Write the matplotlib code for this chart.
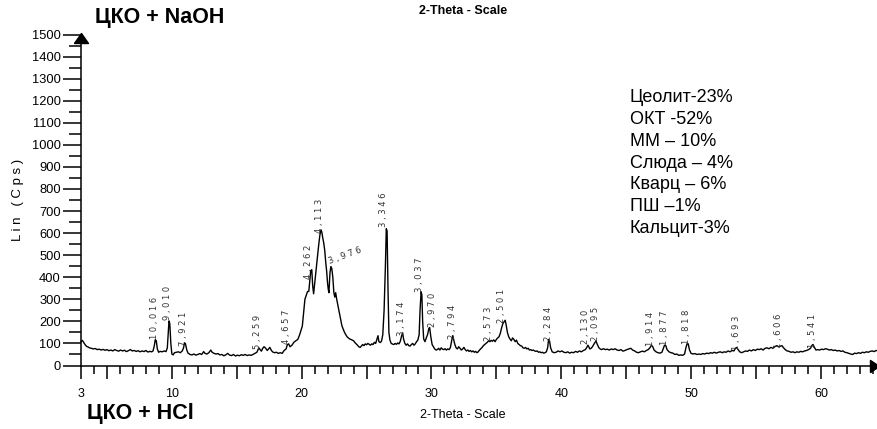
import numpy as np
import matplotlib
matplotlib.use("Agg")
import matplotlib.pyplot as plt
from matplotlib.path import Path
from matplotlib.ticker import MultipleLocator, FixedLocator

plt.rcParams['font.family'] = ['Liberation Sans', 'DejaVu Sans']

# ---------------- data ----------------
two_theta = [
    3.00, 3.08, 3.15, 3.25, 3.35, 3.45, 3.55, 3.65, 3.80, 3.95, 4.10, 4.25, 4.40, 4.55, 4.70, 4.85,
    5.00, 5.15, 5.30, 5.45, 5.60, 5.75, 5.90, 6.05, 6.20, 6.35, 6.50, 6.65, 6.80, 6.95, 7.10, 7.25,
    7.40, 7.55, 7.70, 7.85, 8.00, 8.15, 8.30, 8.45, 8.55, 8.65, 8.72, 8.80, 8.88, 8.98, 9.10, 9.25,
    9.40, 9.55, 9.65, 9.72, 9.78, 9.84, 9.92, 10.00, 10.10, 10.20, 10.35, 10.50, 10.65, 10.80, 10.90, 10.97,
    11.05, 11.15, 11.25, 11.40, 11.55, 11.70, 11.85, 12.00, 12.15, 12.30, 12.45, 12.55, 12.70, 12.85, 13.00, 13.10,
    13.25, 13.40, 13.55, 13.70, 13.85, 14.00, 14.15, 14.30, 14.45, 14.60, 14.75, 14.90, 15.05, 15.20, 15.35, 15.50,
    15.65, 15.80, 15.95, 16.10, 16.25, 16.40, 16.55, 16.70, 16.80, 16.90, 17.00, 17.10, 17.20, 17.35, 17.45, 17.55,
    17.65, 17.75, 17.90, 18.05, 18.20, 18.35, 18.50, 18.65, 18.80, 18.90, 19.00, 19.10, 19.25, 19.40, 19.55, 19.70,
    19.85, 19.95, 20.05, 20.15, 20.25, 20.35, 20.45, 20.55, 20.62, 20.70, 20.78, 20.85, 20.92, 21.00, 21.10, 21.20,
    21.30, 21.40, 21.48, 21.55, 21.62, 21.70, 21.78, 21.85, 21.92, 22.00, 22.05, 22.10, 22.18, 22.25, 22.32, 22.40,
    22.48, 22.55, 22.62, 22.70, 22.80, 22.90, 23.00, 23.10, 23.20, 23.30, 23.40, 23.50, 23.60, 23.70, 23.80, 23.90,
    24.00, 24.10, 24.20, 24.30, 24.40, 24.50, 24.60, 24.70, 24.80, 24.90, 25.00, 25.10, 25.20, 25.30, 25.40, 25.50,
    25.60, 25.70, 25.80, 25.88, 25.95, 26.05, 26.15, 26.25, 26.35, 26.45, 26.52, 26.58, 26.65, 26.72, 26.80, 26.90,
    27.00, 27.10, 27.20, 27.30, 27.40, 27.50, 27.60, 27.70, 27.78, 27.85, 27.95, 28.05, 28.15, 28.25, 28.35, 28.45,
    28.55, 28.65, 28.75, 28.85, 28.95, 29.05, 29.12, 29.20, 29.26, 29.32, 29.40, 29.50, 29.60, 29.70, 29.80, 29.86,
    29.95, 30.05, 30.15, 30.25, 30.35, 30.45, 30.55, 30.65, 30.75, 30.85, 30.95, 31.05, 31.15, 31.25, 31.35, 31.45,
    31.55, 31.63, 31.70, 31.80, 31.90, 32.00, 32.10, 32.20, 32.30, 32.40, 32.50, 32.60, 32.70, 32.80, 32.90, 33.00,
    33.10, 33.20, 33.30, 33.40, 33.50, 33.60, 33.70, 33.80, 33.90, 34.00, 34.10, 34.20, 34.30, 34.40, 34.50, 34.60,
    34.70, 34.80, 34.90, 35.00, 35.10, 35.20, 35.30, 35.40, 35.50, 35.60, 35.68, 35.75, 35.85, 35.95, 36.05, 36.15,
    36.25, 36.35, 36.45, 36.55, 36.65, 36.75, 36.85, 36.95, 37.05, 37.15, 37.25, 37.35, 37.45, 37.55, 37.65, 37.75,
    37.85, 37.95, 38.05, 38.15, 38.25, 38.35, 38.45, 38.55, 38.65, 38.75, 38.85, 38.95, 39.02, 39.10, 39.18, 39.30,
    39.45, 39.60, 39.75, 39.90, 40.05, 40.20, 40.35, 40.50, 40.65, 40.80, 40.95, 41.10, 41.25, 41.40, 41.55, 41.70,
    41.85, 41.95, 42.05, 42.12, 42.20, 42.30, 42.40, 42.50, 42.60, 42.68, 42.78, 42.90, 43.00, 43.10, 43.25, 43.40,
    43.55, 43.70, 43.85, 44.00, 44.15, 44.30, 44.45, 44.60, 44.75, 44.90, 45.05, 45.20, 45.35, 45.50, 45.65, 45.80,
    45.95, 46.10, 46.25, 46.40, 46.55, 46.70, 46.82, 46.95, 47.05, 47.15, 47.30, 47.45, 47.60, 47.75, 47.85, 47.95,
    48.05, 48.15, 48.30, 48.45, 48.60, 48.75, 48.90, 49.05, 49.20, 49.35, 49.50, 49.60, 49.70, 49.78, 49.88, 50.00,
    50.15, 50.30, 50.45, 50.60, 50.75, 50.90, 51.05, 51.20, 51.35, 51.50, 51.65, 51.80, 51.95, 52.10, 52.25, 52.40,
    52.55, 52.70, 52.85, 53.00, 53.15, 53.30, 53.42, 53.52, 53.62, 53.75, 53.90, 54.05, 54.20, 54.35, 54.50, 54.65,
    54.80, 54.95, 55.10, 55.25, 55.40, 55.55, 55.70, 55.85, 56.00, 56.15, 56.30, 56.45, 56.60, 56.75, 56.90, 57.00,
    57.10, 57.25, 57.40, 57.55, 57.70, 57.85, 58.00, 58.15, 58.30, 58.45, 58.60, 58.75, 58.90, 59.05, 59.20, 59.32,
    59.40, 59.50, 59.62, 59.75, 59.90, 60.05, 60.20, 60.35, 60.50, 60.65, 60.80, 60.95, 61.10, 61.25, 61.40, 61.55,
    61.70, 61.85, 62.00, 62.15, 62.30, 62.45, 62.60, 62.75, 62.90, 63.05, 63.20, 63.35, 63.50, 63.65, 63.80, 63.95,
    64.10, 64.25, 64.40,
]

intensity = [
    108, 114, 110, 100, 92, 86, 84, 80, 78, 75, 77, 72, 74, 70, 73, 69,
    72, 67, 70, 66, 72, 68, 65, 70, 66, 69, 63, 67, 72, 66, 68, 64,
    67, 62, 66, 63, 68, 61, 64, 62, 66, 90, 117, 112, 75, 60, 64, 62,
    66, 63, 80, 150, 202, 190, 100, 52, 48, 58, 60, 62, 58, 66, 80, 103,
    98, 70, 56, 50, 48, 52, 47, 50, 54, 50, 63, 55, 52, 58, 70, 60,
    55, 52, 54, 48, 50, 44, 48, 55, 47, 45, 50, 43, 47, 44, 49, 46,
    50, 45, 48, 46, 50, 55, 60, 80, 72, 65, 78, 85, 80, 68, 75, 82,
    70, 62, 58, 60, 55, 58, 55, 68, 75, 95, 98, 85, 92, 105, 112, 118,
    140, 160, 178, 240, 300, 318, 335, 336, 380, 430, 434, 360, 325, 370, 430, 480,
    540, 590, 615, 605, 580, 555, 520, 470, 430, 370, 345, 330, 420, 448, 440, 400,
    330, 310, 330, 300, 270, 240, 210, 180, 165, 150, 140, 130, 125, 120, 118, 115,
    112, 104, 98, 92, 85, 82, 88, 95, 90, 98, 94, 100, 96, 92, 98, 95,
    105, 100, 120, 135, 108, 104, 110, 140, 250, 450, 620, 610, 350, 150, 115, 100,
    97, 95, 100, 96, 102, 98, 110, 135, 148, 120, 100, 92, 98, 90, 88, 95,
    100, 92, 98, 108, 115, 140, 250, 334, 320, 200, 120, 108, 125, 140, 168, 172,
    130, 95, 85, 75, 70, 72, 78, 70, 80, 74, 72, 76, 70, 75, 72, 80,
    110, 135, 120, 95, 80, 75, 85, 78, 70, 75, 82, 72, 66, 70, 64, 68,
    62, 66, 60, 64, 58, 62, 70, 76, 82, 90, 95, 100, 105, 112, 108, 114,
    110, 116, 108, 118, 125, 130, 145, 170, 190, 198, 205, 185, 150, 130, 120, 112,
    125, 118, 108, 115, 100, 95, 90, 88, 80, 78, 82, 75, 78, 70, 72, 68,
    70, 66, 64, 66, 60, 62, 58, 60, 56, 58, 62, 80, 118, 110, 80, 62,
    58, 60, 66, 62, 66, 60, 58, 62, 56, 60, 58, 64, 60, 66, 62, 68,
    72, 80, 92, 85, 75, 78, 85, 95, 105, 110, 95, 80, 75, 72, 76, 72,
    74, 70, 75, 72, 76, 70, 68, 72, 65, 68, 72, 75, 78, 70, 66, 60,
    58, 62, 65, 62, 68, 72, 80, 92, 85, 70, 62, 58, 56, 60, 75, 92,
    90, 72, 62, 58, 56, 50, 52, 46, 48, 46, 52, 80, 100, 98, 70, 55,
    52, 54, 50, 52, 50, 54, 52, 56, 54, 58, 56, 60, 56, 60, 62, 58,
    62, 60, 66, 62, 68, 66, 78, 82, 72, 62, 58, 62, 66, 64, 70, 66,
    72, 68, 74, 72, 76, 70, 78, 80, 76, 82, 78, 85, 90, 84, 88, 90,
    82, 72, 66, 64, 60, 62, 58, 62, 60, 64, 62, 66, 68, 72, 78, 92,
    95, 82, 70, 72, 70, 74, 72, 76, 74, 70, 72, 68, 70, 66, 68, 64,
    66, 60, 58, 55, 52, 50, 56, 54, 58, 55, 60, 58, 62, 60, 64, 66,
    63, 68, 66,
]

# d-spacing labels (text), where they stand on the 2-theta axis, and their foot height
peak_labels = ["10,016", "9,010", "7,921", "5,259", "4,657", "4,262", "4,113", "3,976",
               "3,346", "3,174", "3,037", "2,970", "2,794", "2,573", "2,501", "2,284",
               "2,130", "2,095", "1,914", "1,877", "1,818", "1,693", "1,606", "1,541"]
peak_label_2theta = [8.65, 9.65, 10.9, 16.6, 18.8, 20.5, 21.36, 22.18,
                     26.27, 27.72, 29.08, 30.08, 31.6, 34.38, 35.43, 39.0,
                     41.83, 42.6, 46.9, 47.98, 49.67, 53.5, 56.72, 59.38]
peak_label_height = [118, 206, 90, 74, 96, 390, 600, 452,
                     628, 134, 334, 176, 118, 110, 194, 110,
                     96, 110, 90, 95, 96, 72, 80, 80]

phase_lines = ["Цеолит-23%", "ОКТ -52%", "ММ – 10%", "Слюда – 4%",
               "Кварц – 6%", "ПШ –1%", "Кальцит-3%"]

x_tick_values = [3, 10, 20, 30, 40, 50, 60]
y_tick_values = list(range(0, 1501, 100))

# ---------------- figure ----------------
W, H = 878, 429
fig = plt.figure(figsize=(W / 100, H / 100), dpi=100)
ax = fig.add_axes([81 / W, 63.5 / H, 797 / W, 331 / H])

ax.plot(two_theta, intensity, color='black', lw=1.0, clip_on=False)

ax.set_xlim(3, 64.4)
ax.set_ylim(0, 1500)

for s in ('top', 'right'):
    ax.spines[s].set_visible(False)
for s in ('left', 'bottom'):
    ax.spines[s].set_linewidth(1.1)

# x ticks
major_x = [3] + list(range(5, 65, 5))
ax.set_xticks(major_x)
ax.set_xticklabels([str(v) if v in x_tick_values else '' for v in major_x])
ax.xaxis.set_minor_locator(MultipleLocator(1))
ax.tick_params(axis='x', which='major', length=9, width=1.1, pad=7, labelsize=9)
ax.tick_params(axis='x', which='minor', length=6, width=1.1)

# y ticks
ax.set_yticks(y_tick_values)
ax.set_yticklabels([str(v) for v in y_tick_values])
ax.yaxis.set_minor_locator(MultipleLocator(50))
ax.tick_params(axis='y', which='major', length=13, width=1.1, pad=1.5, labelsize=9.3)
ax.tick_params(axis='y', which='minor', length=9, width=1.1)

# axis arrows
up_arrow = Path([(-7, 0), (7, 0), (0, 10), (-7, 0)])
right_arrow = Path([(0, -6), (0, 6), (9, 0), (0, -6)])
ax.plot([3], [1462], marker=up_arrow, markersize=14.4, color='black', clip_on=False)
ax.plot([63.75], [0], marker=right_arrow, markersize=13, color='black', clip_on=False)

ax.set_ylabel("L i n   ( C p s )", fontsize=9.5)
ax.yaxis.set_label_coords(-0.071, 0.5)

# peak labels
for lab, xt, yt in zip(peak_labels, peak_label_2theta, peak_label_height):
    spaced = " ".join(lab)
    if lab == "3,976":
        ax.text(xt, yt, spaced, rotation=20, rotation_mode='anchor', ha='left', va='bottom',
                fontsize=6.0, family='DejaVu Sans', color='#333333')
    else:
        ax.text(xt, yt, spaced, rotation=90, ha='center', va='bottom',
                fontsize=6.0, family='DejaVu Sans', color='#333333')

# phase composition
for i, line in enumerate(phase_lines):
    fig.text(630 / W, 1 - (102 + 21.85 * i) / H, line, fontsize=13, va='baseline', ha='left')

# titles
fig.text(463 / W, 1 - 11 / H, "2-Theta - Scale", fontsize=9, fontweight='bold',
         ha='center', va='center')
fig.text(95 / W, 1 - 17 / H, "ЦКО + NaOH", fontsize=15.5, fontweight='bold',
         ha='left', va='center')
fig.text(87 / W, 1 - 414 / H, "ЦКО + HCl", fontsize=15.5, fontweight='bold',
         ha='left', va='center')
fig.text(463 / W, 1 - 415 / H, "2-Theta - Scale",
         fontsize=9, ha='center', va='center',
         family=['Liberation Sans Narrow', 'Liberation Sans', 'DejaVu Sans'])

fig.savefig("out.png", dpi=100)
